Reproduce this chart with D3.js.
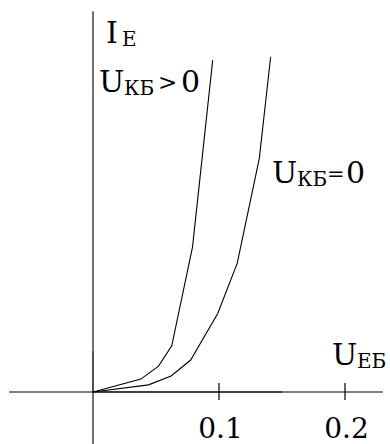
<!DOCTYPE html>
<html><head><meta charset="utf-8">
<script src="https://cdn.jsdelivr.net/npm/d3@7"></script>
<style>html,body{margin:0;padding:0;background:#fff;}svg{display:block;}</style>
</head><body>
<svg id="c" width="390" height="444"></svg>
<script>
// Data (U_EB in volts, I_E in relative units)
const curvePositiveX = [0, 0.038, 0.052, 0.0625, 0.079, 0.095];
const curvePositiveY = [0, 0.038, 0.076, 0.136, 0.427, 0.976];
const curveZeroX = [0, 0.044, 0.062, 0.0775, 0.099, 0.1145, 0.132, 0.141];
const curveZeroY = [0, 0.021, 0.047, 0.094, 0.231, 0.379, 0.687, 0.986];
const tickValues = [0.1, 0.2];
const tickLabels = ["0.1", "0.2"];
const xAxisExtent = [-0.0667, 0.23];
const yAxisExtent = [-0.153, 1.12];
const baseSegment = [0, 0.15];

const FONT = "DejaVu Serif";
const svg = d3.select("#c");
const x = d3.scaleLinear().domain([0, 0.2]).range([93, 345]);
const y = d3.scaleLinear().domain([0, 1]).range([392, 52]);

// axes (thin, antialiased)
svg.append("line").attr("x1", x(xAxisExtent[0])).attr("x2", x(xAxisExtent[1]))
  .attr("y1", y(0)).attr("y2", y(0)).attr("stroke", "#000").attr("stroke-width", 1.1);
svg.append("line").attr("x1", x(0)).attr("x2", x(0))
  .attr("y1", y(yAxisExtent[0])).attr("y2", y(yAxisExtent[1])).attr("stroke", "#000").attr("stroke-width", 1.1);
// darker overlay along the x axis
svg.append("line").attr("x1", x(baseSegment[0])).attr("x2", x(baseSegment[1]))
  .attr("y1", y(0)).attr("y2", y(0)).attr("stroke", "#000").attr("stroke-width", 1.1);
svg.append("line").attr("x1", x(0)).attr("x2", x(0))
  .attr("y1", y(0)).attr("y2", y(0.12)).attr("stroke", "#000").attr("stroke-width", 0.6);

// ticks
svg.selectAll("line.tick").data(tickValues).enter().append("line")
  .attr("class", "tick")
  .attr("x1", d => x(d)).attr("x2", d => x(d))
  .attr("y1", y(0) - 9).attr("y2", y(0) + 8)
  .attr("stroke", "#000").attr("stroke-width", 1.2);
svg.selectAll("text.tl").data(tickValues).enter().append("text")
  .attr("class", "tl")
  .attr("x", d => x(d) + 1.5).attr("y", 438)
  .attr("text-anchor", "middle")
  .attr("font-family", FONT)
  .attr("font-size", 28)
  .text((d, i) => tickLabels[i]);

// curves
const line = d3.line().x(d => x(d[0])).y(d => y(d[1]));
const c1 = curvePositiveX.map((v, i) => [v, curvePositiveY[i]]);
const c2 = curveZeroX.map((v, i) => [v, curveZeroY[i]]);
[c1, c2].forEach(c => {
  svg.append("path").datum(c).attr("d", line)
    .attr("fill", "none").attr("stroke", "#000").attr("stroke-width", 1.1)
    .attr("stroke-linejoin", "miter");
});

// labels
function label(parts) {
  const t = svg.append("text").attr("fill", "#000").attr("font-family", FONT);
  parts.forEach(p => {
    t.append("tspan").attr("x", p.x).attr("y", p.y).attr("font-size", p.s)
      .attr("font-family", FONT).text(p.t);
  });
}
label([{t: "I", x: 106, y: 43, s: 30}, {t: "E", x: 122, y: 46, s: 20}]);
label([{t: "U", x: 99, y: 92, s: 30}, {t: "КБ", x: 124, y: 95, s: 20},
       {t: ">", x: 158, y: 90, s: 23}, {t: "0", x: 181, y: 92, s: 30}]);
label([{t: "U", x: 272, y: 183, s: 30}, {t: "КБ", x: 297, y: 186, s: 20},
       {t: "=", x: 327, y: 181, s: 21}, {t: "0", x: 346, y: 183, s: 30}]);
label([{t: "U", x: 332, y: 365, s: 30}, {t: "EБ", x: 357, y: 368, s: 20}]);
</script>
</body></html>
